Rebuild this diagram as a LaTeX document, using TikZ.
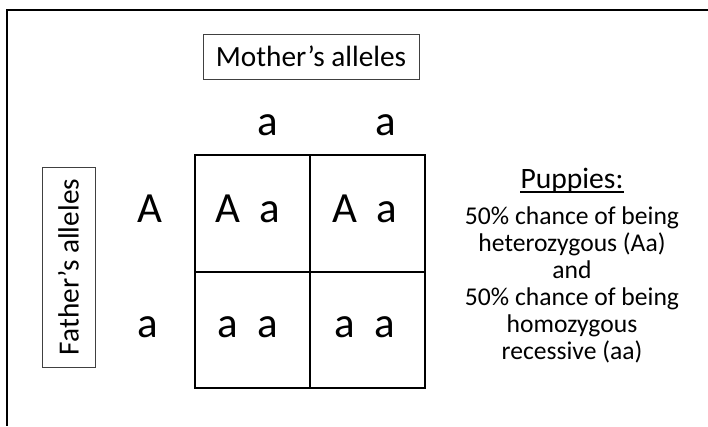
\documentclass[tikz,border=0pt]{standalone}
\usepackage{fontspec}
\setmainfont{Carlito}
\usetikzlibrary{positioning}

\begin{document}
\begin{tikzpicture}[x=1pt,y=-1pt,
    labelbox/.style={draw=black!75, line width=1pt, inner sep=0pt,
      font=\fontsize{29.3}{34}\selectfont},
    allele/.style={anchor=base, inner sep=0pt, font=\fontsize{43}{50}\selectfont},
    square/.style={line width=2pt}]
  \useasboundingbox (0,0) rectangle (708,426);

  % frame
  \draw[line width=1.5pt] (708,10) -- (7,10) -- (7,426);

  % parents
  \node[labelbox, minimum width=216pt, minimum height=45pt] (mother) at (311,56.5) {Mother’s alleles};
  \node[labelbox, rotate=90, minimum width=200pt, minimum height=53pt] (father) at (68.5,267) {Father’s alleles};

  % punnett square
  \draw[square] (195,155) rectangle (425,388);
  \draw[square] (310,155) -- (310,388);
  \draw[square] (195,272) -- (425,272);

  % alleles
  \node[allele] (ma) at (268,135) {a};
  \node[allele] (mb) at (386,135) {a};
  \node[allele] (fa) at (150,222) {A};
  \node[allele] (fb) at (148,337) {a};

  % offspring
  \node[allele] (caa) at (248,222) {A\ \ a};
  \node[allele] (cab) at (365,222) {A\ \ a};
  \node[allele] (cba) at (248,337) {a\ \ a};
  \node[allele] (cbb) at (365,337) {a\ \ a};

  % result
  \node[anchor=base, inner sep=0pt, font=\fontsize{29.6}{34}\selectfont] (puppies) at (572,188) {Puppies:};
  \draw[line width=1.2pt] ([yshift=-4pt]puppies.base west) -- ([yshift=-4pt]puppies.base east);
  \node[align=center, inner sep=0pt, font=\fontsize{25.6}{27}\selectfont] (odds) at (572,285)
    {50\% chance of being\\heterozygous (Aa)\\and\\50\% chance of being\\homozygous\\recessive (aa)};
\end{tikzpicture}
\end{document}
